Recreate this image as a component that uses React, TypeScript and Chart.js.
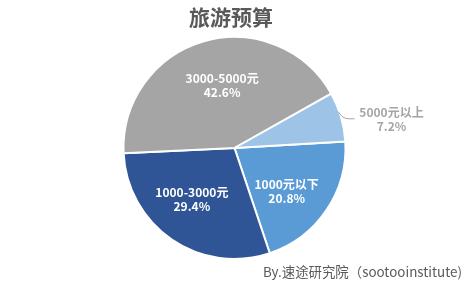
import React, { useEffect, useRef } from "react";
import { Chart, registerables } from "chart.js";

Chart.register(...registerables);

const title = "旅游预算";
const footer = "By.速途研究院（sootooinstitute)";
const categories = ["1000元以下", "1000-3000元", "3000-5000元", "5000元以上"];
const values = [20.8, 29.4, 42.6, 7.2];
const colors = ["#5B9BD5", "#2F5597", "#A5A5A5", "#9DC3E6"];
const outsideLabel = [false, false, false, true];
// small label nudges (styling only)
const labelNudge: [number, number][] = [
  [-3, 6],
  [-5, -4],
  [6, 1.5],
  [3, 0],
];

const FONT = '"Noto Sans CJK SC", "Noto Sans", sans-serif';

const labelPlugin = {
  id: "sliceLabels",
  afterDatasetsDraw(chart: any) {
    const ctx = chart.ctx;
    const meta = chart.getDatasetMeta(0);
    ctx.save();
    ctx.textBaseline = "middle";
    meta.data.forEach((arc: any, i: number) => {
      const { x, y, startAngle, endAngle, outerRadius } = arc.getProps(
        ["x", "y", "startAngle", "endAngle", "outerRadius"],
        true
      );
      const mid = (startAngle + endAngle) / 2;
      const pct = values[i].toFixed(1) + "%";
      const [nx, ny] = labelNudge[i];
      ctx.font = "bold 12px " + FONT;
      if (!outsideLabel[i]) {
        const r = outerRadius * 0.6;
        const lx = x + Math.cos(mid) * r + nx;
        const ly = y + Math.sin(mid) * r + ny;
        ctx.fillStyle = "#FFFFFF";
        ctx.textAlign = "center";
        ctx.fillText(categories[i], lx, ly - 7);
        ctx.fillText(pct, lx, ly + 7);
      } else {
        const a = mid - 0.05;
        const sx = x + Math.cos(a) * (outerRadius - 1);
        const sy = y + Math.sin(a) * (outerRadius - 1);
        const ex = x + outerRadius + 5;
        const ey = sy + 7;
        ctx.strokeStyle = "#A5A5A5";
        ctx.lineWidth = 1;
        ctx.beginPath();
        ctx.moveTo(sx, sy);
        ctx.quadraticCurveTo(sx + 4, ey, ex - 2, ey);
        ctx.lineTo(ex + 4, ey);
        ctx.stroke();
        ctx.fillStyle = "#A5A5A5";
        ctx.textAlign = "center";
        const tx = ex + 4 + 34 + nx;
        ctx.fillText(categories[i], tx, ey - 6.5);
        ctx.fillText(pct, tx, ey + 8);
      }
    });
    // title
    ctx.fillStyle = "#595959";
    ctx.textAlign = "center";
    ctx.font = "bold 21px " + FONT;
    ctx.fillText(title, 231, 17);
    // footer
    ctx.font = "13.4px " + FONT;
    ctx.textAlign = "left";
    ctx.fillText(footer, 263, 272);
    ctx.restore();
  },
};

export default function App() {
  const ref = useRef<HTMLCanvasElement>(null);
  useEffect(() => {
    document.body.style.margin = "0";
    const chart = new Chart(ref.current as HTMLCanvasElement, {
      type: "pie",
      data: {
        labels: categories,
        datasets: [
          {
            data: values,
            backgroundColor: colors,
            borderColor: "#FFFFFF",
            borderWidth: 2,
          },
        ],
      },
      options: {
        animation: false,
        responsive: false,
        rotation: 86.6,
        layout: { padding: { top: 36, bottom: 23, left: 0, right: 0 } },
        plugins: {
          legend: { display: false },
          tooltip: { enabled: false },
          title: { display: false },
        },
      },
      plugins: [labelPlugin],
    });
    return () => chart.destroy();
  }, []);
  return <canvas ref={ref} width={469} height={283} style={{ display: "block" }} />;
}
